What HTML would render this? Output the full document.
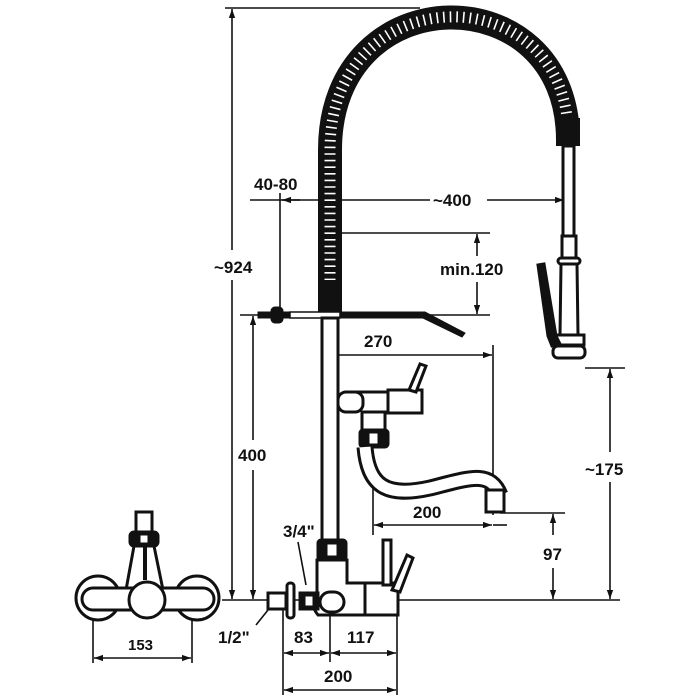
<!DOCTYPE html>
<html><head><meta charset="utf-8"><style>
html,body{margin:0;padding:0;background:#fff}
svg{display:block}
text{font-family:"Liberation Sans",sans-serif;font-weight:bold;font-size:17px;fill:#111}
</style></head><body>
<svg width="700" height="700" viewBox="0 0 700 700" xmlns="http://www.w3.org/2000/svg">
<defs>
<marker id="a" viewBox="0 0 10 10" refX="10" refY="5" markerWidth="9" markerHeight="9" orient="auto-start-reverse" markerUnits="userSpaceOnUse"><path d="M0,1.5 L10,5 L0,8.5 z" fill="#111"/></marker>
</defs>
<g fill="none" stroke="#111" stroke-width="1.6">
<line x1="225" y1="8" x2="420" y2="8"/>
<line x1="232" y1="9" x2="232" y2="250" marker-start="url(#a)"/>
<line x1="232" y1="280" x2="232" y2="599" marker-end="url(#a)"/>
<line x1="222" y1="600" x2="620" y2="600"/>
<line x1="250" y1="200" x2="330" y2="200"/>
<line x1="280" y1="193" x2="280" y2="318"/>
<line x1="300" y1="200" x2="282" y2="200" marker-end="url(#a)"/>
<line x1="340" y1="200" x2="430" y2="200"/>
<line x1="487" y1="200" x2="564" y2="200" marker-end="url(#a)"/>
<line x1="567" y1="193" x2="567" y2="215"/>
<line x1="340" y1="233" x2="490" y2="233"/>
<line x1="340" y1="315" x2="490" y2="315"/>
<line x1="477" y1="234" x2="477" y2="256" marker-start="url(#a)"/>
<line x1="477" y1="282" x2="477" y2="314" marker-end="url(#a)"/>
<line x1="240" y1="315" x2="260" y2="315"/>
<line x1="253" y1="316" x2="253" y2="440" marker-start="url(#a)"/>
<line x1="253" y1="470" x2="253" y2="599" marker-end="url(#a)"/>
<line x1="330" y1="355" x2="492" y2="355" marker-end="url(#a)"/>
<line x1="338" y1="340" x2="338" y2="370"/>
<line x1="493" y1="345" x2="493" y2="515"/>
<line x1="373" y1="450" x2="373" y2="535"/>
<line x1="374" y1="525" x2="492" y2="525" marker-start="url(#a)" marker-end="url(#a)"/>
<line x1="493" y1="525" x2="507" y2="525"/>
<line x1="500" y1="513" x2="565" y2="513"/>
<line x1="553" y1="514" x2="553" y2="535" marker-start="url(#a)"/>
<line x1="553" y1="568" x2="553" y2="599" marker-end="url(#a)"/>
<line x1="585" y1="368" x2="625" y2="368"/>
<line x1="610" y1="369" x2="610" y2="452" marker-start="url(#a)"/>
<line x1="610" y1="482" x2="610" y2="599" marker-end="url(#a)"/>
<line x1="283" y1="600" x2="283" y2="695"/>
<line x1="330" y1="605" x2="330" y2="662"/>
<line x1="397" y1="600" x2="397" y2="695"/>
<line x1="284" y1="653" x2="329" y2="653" marker-start="url(#a)" marker-end="url(#a)"/>
<line x1="331" y1="653" x2="396" y2="653" marker-start="url(#a)" marker-end="url(#a)"/>
<line x1="284" y1="690" x2="396" y2="690" marker-start="url(#a)" marker-end="url(#a)"/>
<line x1="298" y1="542" x2="306" y2="585"/>
<line x1="256" y1="625" x2="272" y2="605"/>
<line x1="93" y1="605" x2="93" y2="663"/>
<line x1="192" y1="605" x2="192" y2="663"/>
<line x1="94" y1="658" x2="191" y2="658" marker-start="url(#a)" marker-end="url(#a)"/>
</g>

<!-- coil -->
<path d="M330,312 L330,150 C330,-25 568,-25 568,140" fill="none" stroke="#111" stroke-width="24"/>
<path d="M330,300 L330,150 C330,-25 568,-25 568,135" fill="none" stroke="#fff" stroke-width="11" stroke-dasharray="1.6 5"/>
<rect x="318" y="280" width="24" height="34" fill="#111"/>
<rect x="556" y="118" width="24" height="28" fill="#111"/>

<g fill="#fff" stroke="#111" stroke-width="3">
<rect x="563" y="146" width="11" height="90"/>
<rect x="562" y="236" width="14" height="22"/>
<rect x="558" y="258" width="22" height="6" rx="3"/>
<path d="M561,264 L577,264 L578,335 L560,335 z"/>
<rect x="554" y="335" width="30" height="10"/>
<rect x="553" y="346" width="32" height="12" rx="5"/>
<path d="M538,265 L544,264 L556,336 L560,344 L552,346 L548,336 z" fill="#111"/>
<path d="M258,312 L425,312 L465,333 L462,337 L423,318 L258,318 z" fill="#111" stroke-width="1"/>
<rect x="290" y="312" width="50" height="6" fill="#fff" stroke-width="1.5"/>
<rect x="272" y="308" width="10" height="14" rx="3" fill="#111"/>
<rect x="322" y="318" width="16" height="222"/>
<path d="M345,392 L390,392 L390,412 L362,412 L362,432 L385,432 L385,412" />
<rect x="338" y="392" width="25" height="20" rx="8"/>
<rect x="388" y="390" width="34" height="23"/>
<path d="M409,390 L420,364 L426,366 L416,392 z" fill="#fff"/>
<rect x="360" y="430" width="28" height="17" rx="3" fill="#111"/>
<rect x="369" y="433" width="9" height="11" fill="#fff" stroke-width="1"/>
<path d="M365,447 C368,485 385,498 430,488 C470,478 490,470 500,495" fill="none" stroke-width="17"/>
<path d="M365,447 C368,485 385,498 430,488 C470,478 490,470 500,495" fill="none" stroke="#fff" stroke-width="11"/>
<rect x="486" y="490" width="18" height="22"/>
<rect x="318" y="540" width="28" height="20" rx="3" fill="#111"/>
<rect x="327" y="544" width="10" height="12" fill="#fff" stroke-width="1"/>
<path d="M317,560 L347,560 L347,583 L365,583 L365,615 L318,615 Q310,605 317,600 z"/>
<path d="M365,583 L398,583 L398,615 L365,615 z"/>
<rect x="383" y="540" width="8" height="45"/>
<path d="M392,590 L407,555 L413,558 L400,592 z"/>
<rect x="320" y="592" width="24" height="20" rx="10"/>
<rect x="300" y="593" width="18" height="16" fill="#111"/>
<rect x="305" y="596" width="8" height="10" fill="#fff" stroke-width="1"/>
<rect x="287" y="583" width="7" height="35" rx="3"/>
<rect x="268" y="593" width="18" height="16"/>
<!-- left view -->
<rect x="136" y="512" width="16" height="20"/>
<rect x="130" y="532" width="28" height="14" rx="4" fill="#111"/>
<rect x="140" y="535" width="8" height="8" fill="#fff" stroke-width="1"/>
<path d="M134,546 L126,590 L163,590 L154,546 z"/>
<rect x="143" y="546" width="4" height="34" fill="#111" stroke="none"/>
<circle cx="98" cy="598" r="22"/>
<circle cx="197" cy="598" r="22"/>
<rect x="82" y="588" width="132" height="22" rx="11"/>
<circle cx="147" cy="600" r="18"/>
</g>

<text x="214" y="273">~924</text>
<text x="254" y="190">40-80</text>
<text x="433" y="206">~400</text>
<text x="440" y="275">min.120</text>
<text x="364" y="347">270</text>
<text x="238" y="461">400</text>
<text x="413" y="518">200</text>
<text x="543" y="560">97</text>
<text x="585" y="475">~175</text>
<text x="283" y="537">3/4"</text>
<text x="218" y="643">1/2"</text>
<text x="294" y="643">83</text>
<text x="347" y="643">117</text>
<text x="324" y="682">200</text>
<text x="128" y="650" style="font-size:15px">153</text>
</svg>
</body></html>
